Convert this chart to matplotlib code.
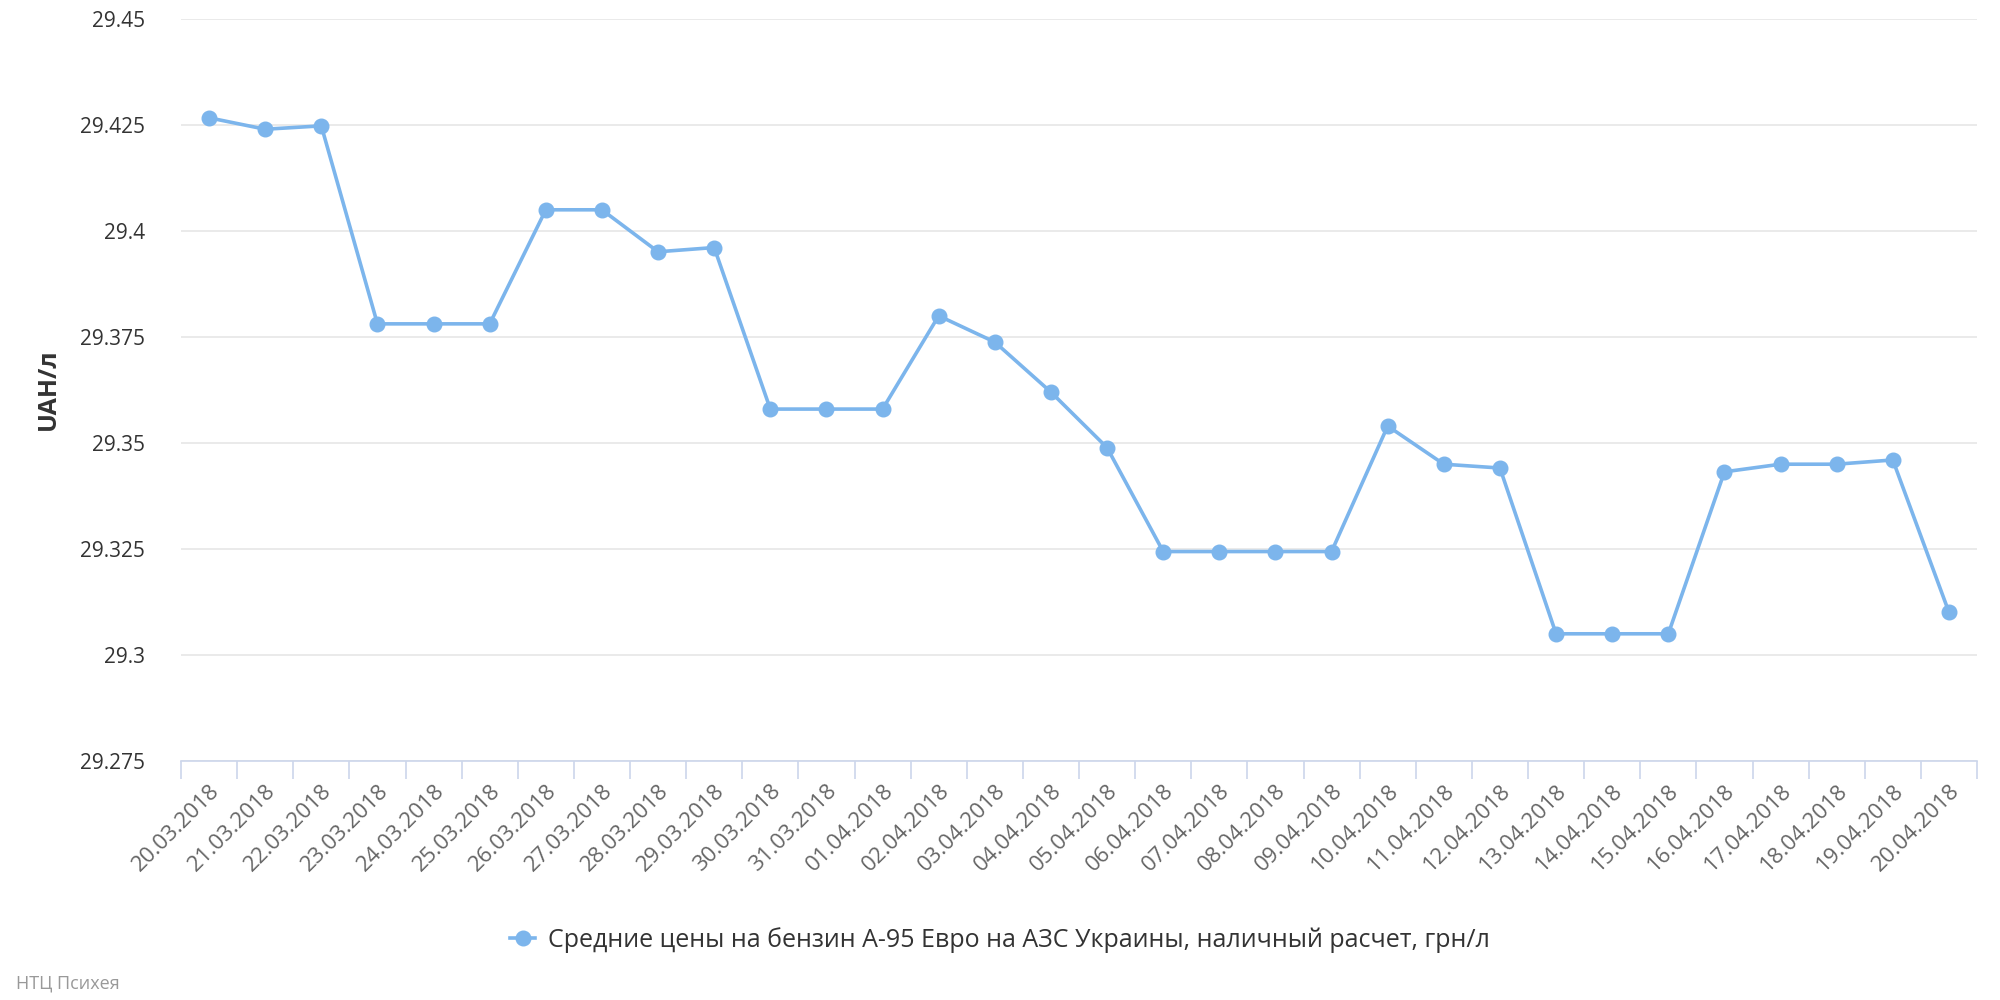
import matplotlib
matplotlib.use("Agg")
import matplotlib.pyplot as plt
from matplotlib.ticker import FixedLocator, FuncFormatter, MultipleLocator

plt.rcParams["font.family"] = ["Open Sans", "DejaVu Sans"]

dates = [
    "20.03.2018", "21.03.2018", "22.03.2018", "23.03.2018", "24.03.2018",
    "25.03.2018", "26.03.2018", "27.03.2018", "28.03.2018", "29.03.2018",
    "30.03.2018", "31.03.2018", "01.04.2018", "02.04.2018", "03.04.2018",
    "04.04.2018", "05.04.2018", "06.04.2018", "07.04.2018", "08.04.2018",
    "09.04.2018", "10.04.2018", "11.04.2018", "12.04.2018", "13.04.2018",
    "14.04.2018", "15.04.2018", "16.04.2018", "17.04.2018", "18.04.2018",
    "19.04.2018", "20.04.2018",
]
prices = [
    29.4267, 29.4240, 29.4248, 29.3781, 29.3781,
    29.3781, 29.4050, 29.4050, 29.3951, 29.3961,
    29.3580, 29.3580, 29.3580, 29.3800, 29.3738,
    29.3620, 29.3489, 29.3244, 29.3244, 29.3244,
    29.3244, 29.3540, 29.3450, 29.3441, 29.3050,
    29.3050, 29.3050, 29.3432, 29.3450, 29.3450,
    29.3460, 29.3101,
]
series_name = "Средние цены на бензин А-95 Евро на АЗС Украины, наличный расчет, грн/л"
y_title = "UAH/л"
credit = "НТЦ Психея"

line_color = "#7cb5ec"

fig = plt.figure(figsize=(20, 10), dpi=100)
ax = fig.add_axes([0.0905, 0.239, 0.898, 0.742])

x = list(range(len(dates)))
ax.plot(x, prices, color=line_color, lw=2.6, marker="o", markersize=10.5,
        label=series_name, zorder=3, clip_on=False)

ax.set_xlim(-0.5, len(dates) - 0.5)
ax.set_ylim(29.275, 29.45)
ax.yaxis.set_major_locator(MultipleLocator(0.025))


def fmt(v, _pos):
    return f"{v:.3f}".rstrip("0").rstrip(".")


ax.yaxis.set_major_formatter(FuncFormatter(fmt))
ax.grid(axis="y", color="#e6e6e6", lw=1.2, zorder=0)
ax.tick_params(axis="y", length=0, pad=26, labelsize=15, labelcolor="#333333")

ax.set_xticks(x)
ax.set_xticklabels(dates, rotation=45, ha="right", rotation_mode="anchor",
                   fontsize=16, color="#666666")
ax.tick_params(axis="x", which="major", length=0, pad=14)
ax.xaxis.set_minor_locator(FixedLocator([i - 0.5 for i in range(len(dates) + 1)]))
ax.tick_params(axis="x", which="minor", length=13, color="#ccd6eb", width=1.2)

for side in ("top", "right", "left"):
    ax.spines[side].set_visible(False)
ax.spines["bottom"].set_color("#ccd6eb")
ax.spines["bottom"].set_linewidth(1.2)

fig.text(0.024, 0.611, y_title, rotation=90, ha="center", va="center",
         fontsize=18, fontweight="bold", color="#333333")

leg = fig.legend(loc="center", bbox_to_anchor=(0.5, 0.06), frameon=False,
                 fontsize=18, handlelength=1.0, handletextpad=0.5)
for t in leg.get_texts():
    t.set_color("#333333")

fig.text(0.008, 0.017, credit, fontsize=13, color="#999999", ha="left", va="center")

fig.savefig("out.png", dpi=100, facecolor="white")
